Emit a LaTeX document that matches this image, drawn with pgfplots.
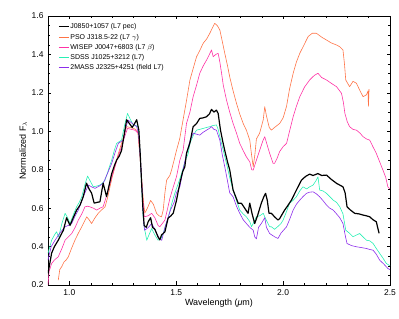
\documentclass[border=0pt]{standalone}
\usepackage{pgfplots}
\pgfplotsset{compat=1.18}
\usepackage{fontspec}
\setmainfont{Liberation Sans}
\definecolor{cblack}{RGB}{0,0,0}
\definecolor{corange}{RGB}{255,115,70}
\definecolor{cpink}{RGB}{255,50,165}
\definecolor{ccyan}{RGB}{40,240,180}
\definecolor{cpurple}{RGB}{140,45,235}
\begin{document}
\begin{tikzpicture}
\begin{axis}[
  scale only axis, width=342bp, height=269bp,
  xmin=0.9, xmax=2.5, ymin=0.2, ymax=1.6,
  xtick={1.0,1.5,2.0,2.5}, ytick={0.2,0.4,0.6,0.8,1.0,1.2,1.4,1.6},
  minor x tick num=4, minor y tick num=3,
  tick align=inside,
  major tick length=3.5bp, minor tick length=2bp,
  tick style={black, line width=0.5pt},
  axis line style={line width=0.6pt},
  /pgf/number format/assume math mode=true,
  /pgf/number format/.cd, fixed, fixed zerofill, precision=1, /pgfplots/.cd,
  ticklabel style={font=\fontsize{8.5}{9}\selectfont},
  xticklabel style={yshift=-1bp},
  yticklabel style={xshift=-1bp},
  xlabel={Wavelength (\textit{μ}m)},
  ylabel={Normalized F$_\lambda$},
  label style={font=\fontsize{9}{10}\selectfont},
  xlabel style={yshift=3bp},
  ylabel style={yshift=-2bp},
  legend cell align=left,
  legend style={at={(rel axis cs:0.0292,0.9796)}, anchor=north west, draw=none, fill=none,
    font=\fontsize{7}{8}\selectfont, row sep=0pt, inner sep=0pt,
    nodes={inner sep=1bp, text height=6.2bp, text depth=2bp}},
  legend image code/.code={\draw[#1] (0bp,0bp) -- (10bp,0bp);},
  every axis plot/.append style={line join=round}
]
\addlegendimage{cblack, line width=1.2pt}
\addlegendentry{J0850+1057 (L7 pec)}
\addlegendimage{corange, line width=0.6pt}
\addlegendentry{PSO J318.5-22 (L7 $\gamma$)}
\addlegendimage{cpink, line width=0.6pt}
\addlegendentry{WISEP J0047+6803 (L7 $\beta$)}
\addlegendimage{ccyan, line width=0.6pt}
\addlegendentry{SDSS J1025+3212 (L7)}
\addlegendimage{cpurple, line width=0.6pt}
\addlegendentry{2MASS J2325+4251 (field L7)}

% PSO J318.5-22
\addplot[corange, line width=0.6pt, forget plot] coordinates {
(0.948,0.225)(0.955,0.28)(0.964,0.295)(0.975,0.32)(0.985,0.33)(0.995,0.347)(1.010,0.39)(1.026,0.433)(1.042,0.47)(1.058,0.503)(1.070,0.53)(1.081,0.555)(1.092,0.54)(1.104,0.52)(1.120,0.55)(1.135,0.573)(1.150,0.59)(1.167,0.607)(1.180,0.66)(1.190,0.711)(1.200,0.76)(1.213,0.815)(1.228,0.88)(1.244,0.937)(1.256,0.98)(1.268,1.024)(1.284,1.02)(1.299,1.015)(1.310,1.01)(1.320,0.998)(1.330,0.87)(1.340,0.73)(1.347,0.63)(1.353,0.574)(1.365,0.60)(1.380,0.64)(1.393,0.62)(1.408,0.573)(1.420,0.56)(1.431,0.555)(1.439,0.59)(1.447,0.68)(1.455,0.746)(1.470,0.77)(1.478,0.798)(1.490,0.85)(1.501,0.90)(1.516,0.96)(1.532,1.06)(1.548,1.16)(1.564,1.267)(1.580,1.33)(1.595,1.388)(1.610,1.42)(1.626,1.458)(1.642,1.48)(1.657,1.51)(1.670,1.54)(1.680,1.562)(1.692,1.55)(1.704,1.527)(1.715,1.47)(1.727,1.406)(1.740,1.34)(1.750,1.284)(1.766,1.21)(1.782,1.145)(1.797,1.09)(1.813,1.041)(1.828,1.006)(1.844,0.954)(1.852,0.88)(1.860,0.815)(1.868,0.88)(1.875,0.96)(1.890,0.99)(1.907,1.06)(1.914,1.128)(1.922,1.08)(1.935,1.02)(1.945,1.006)(1.960,1.02)(1.984,1.041)(2.000,1.07)(2.016,1.13)(2.030,1.22)(2.047,1.302)(2.062,1.36)(2.078,1.406)(2.098,1.45)(2.117,1.493)(2.136,1.51)(2.156,1.51)(2.180,1.49)(2.203,1.475)(2.225,1.46)(2.250,1.449)(2.265,1.44)(2.280,1.423)(2.287,1.35)(2.293,1.267)(2.311,1.232)(2.327,1.26)(2.343,1.25)(2.360,1.21)(2.374,1.18)(2.390,1.19)(2.397,1.21)(2.399,1.13)(2.402,1.22)
};
% WISEP J0047+6803
\addplot[cpink, line width=0.6pt, forget plot] coordinates {
(0.900,0.20)(0.905,0.27)(0.917,0.312)(0.930,0.33)(0.948,0.347)(0.965,0.39)(0.980,0.433)(0.995,0.45)(1.011,0.468)(1.027,0.50)(1.042,0.538)(1.058,0.57)(1.073,0.607)(1.085,0.61)(1.096,0.607)(1.112,0.60)(1.128,0.59)(1.143,0.60)(1.158,0.607)(1.170,0.65)(1.182,0.694)(1.198,0.76)(1.213,0.815)(1.228,0.87)(1.244,0.92)(1.258,0.97)(1.272,1.015)(1.290,1.01)(1.306,1.006)(1.322,0.99)(1.332,0.85)(1.340,0.70)(1.350,0.555)(1.368,0.56)(1.385,0.573)(1.400,0.55)(1.415,0.51)(1.423,0.503)(1.435,0.52)(1.447,0.538)(1.460,0.60)(1.470,0.65)(1.486,0.71)(1.501,0.763)(1.517,0.85)(1.532,0.90)(1.548,1.041)(1.564,1.10)(1.579,1.18)(1.595,1.24)(1.610,1.302)(1.626,1.34)(1.642,1.371)(1.655,1.40)(1.665,1.423)(1.673,1.388)(1.685,1.40)(1.696,1.406)(1.704,1.36)(1.712,1.302)(1.720,1.24)(1.735,1.163)(1.750,1.10)(1.766,1.041)(1.782,0.99)(1.797,0.937)(1.813,0.90)(1.828,0.867)(1.844,0.841)(1.853,0.80)(1.860,0.798)(1.875,0.85)(1.890,0.90)(1.905,0.95)(1.914,0.972)(1.925,0.93)(1.937,0.885)(1.953,0.833)(1.960,0.833)(1.972,0.86)(1.984,0.895)(2.000,0.92)(2.016,0.937)(2.030,1.00)(2.047,1.076)(2.062,1.13)(2.078,1.18)(2.100,1.23)(2.124,1.267)(2.145,1.29)(2.163,1.302)(2.180,1.28)(2.203,1.267)(2.225,1.25)(2.250,1.232)(2.273,1.198)(2.282,1.15)(2.289,1.093)(2.300,1.05)(2.311,1.024)(2.327,1.01)(2.343,1.006)(2.360,0.99)(2.374,0.972)(2.390,0.96)(2.405,0.954)(2.420,0.92)(2.436,0.885)(2.452,0.84)(2.467,0.798)(2.480,0.76)(2.490,0.711)(2.500,0.70)
};
% SDSS J1025+3212
\addplot[ccyan, line width=0.6pt, forget plot] coordinates {
(0.900,0.365)(0.917,0.433)(0.930,0.46)(0.940,0.477)(0.950,0.45)(0.965,0.52)(0.980,0.573)(0.992,0.55)(1.003,0.52)(1.020,0.57)(1.034,0.607)(1.046,0.63)(1.058,0.659)(1.072,0.72)(1.085,0.767)(1.098,0.74)(1.112,0.711)(1.128,0.715)(1.143,0.72)(1.155,0.73)(1.167,0.746)(1.183,0.80)(1.198,0.85)(1.210,0.90)(1.221,0.937)(1.232,0.945)(1.244,0.954)(1.258,1.03)(1.272,1.093)(1.286,1.06)(1.299,1.033)(1.310,1.03)(1.322,1.024)(1.330,0.90)(1.338,0.72)(1.345,0.55)(1.350,0.503)(1.362,0.433)(1.372,0.46)(1.385,0.494)(1.400,0.46)(1.415,0.433)(1.428,0.44)(1.439,0.468)(1.450,0.51)(1.462,0.548)(1.478,0.62)(1.493,0.677)(1.510,0.73)(1.525,0.78)(1.540,0.84)(1.556,0.885)(1.564,0.937)(1.580,0.98)(1.595,1.006)(1.610,1.01)(1.626,1.015)(1.642,1.02)(1.657,1.024)(1.672,1.03)(1.688,1.033)(1.696,1.01)(1.704,0.972)(1.720,0.90)(1.735,0.833)(1.750,0.76)(1.766,0.694)(1.782,0.64)(1.797,0.59)(1.813,0.57)(1.828,0.555)(1.844,0.53)(1.852,0.503)(1.860,0.52)(1.875,0.555)(1.890,0.56)(1.907,0.573)(1.920,0.54)(1.937,0.503)(1.945,0.503)(1.960,0.49)(1.976,0.505)(1.990,0.52)(2.000,0.538)(2.015,0.58)(2.030,0.625)(2.046,0.64)(2.062,0.659)(2.078,0.69)(2.093,0.711)(2.110,0.70)(2.124,0.711)(2.140,0.72)(2.155,0.745)(2.163,0.763)(2.171,0.694)(2.186,0.69)(2.203,0.677)(2.218,0.66)(2.234,0.642)(2.250,0.63)(2.265,0.607)(2.280,0.57)(2.293,0.485)(2.310,0.47)(2.327,0.451)(2.343,0.46)(2.358,0.468)(2.374,0.45)(2.390,0.433)(2.405,0.43)(2.421,0.416)(2.436,0.39)(2.452,0.364)(2.467,0.34)(2.483,0.312)(2.500,0.30)
};
% 2MASS J2325+4251
\addplot[cpurple, line width=0.6pt, forget plot] coordinates {
(0.900,0.33)(0.915,0.40)(0.933,0.433)(0.955,0.47)(0.980,0.503)(0.995,0.51)(1.011,0.52)(1.027,0.56)(1.042,0.59)(1.065,0.66)(1.089,0.72)(1.105,0.71)(1.120,0.703)(1.140,0.715)(1.158,0.729)(1.178,0.78)(1.198,0.833)(1.214,0.89)(1.229,0.937)(1.252,0.954)(1.264,1.02)(1.275,1.058)(1.295,1.04)(1.315,1.024)(1.325,0.98)(1.333,0.85)(1.340,0.70)(1.347,0.53)(1.352,0.485)(1.370,0.50)(1.385,0.52)(1.400,0.49)(1.408,0.468)(1.422,0.44)(1.432,0.433)(1.447,0.50)(1.458,0.538)(1.473,0.59)(1.490,0.63)(1.501,0.68)(1.517,0.711)(1.532,0.80)(1.548,0.885)(1.564,0.95)(1.579,0.99)(1.595,0.985)(1.610,0.98)(1.626,0.995)(1.642,1.006)(1.655,1.015)(1.665,1.024)(1.676,1.01)(1.688,1.006)(1.704,0.954)(1.715,0.88)(1.727,0.815)(1.740,0.74)(1.750,0.68)(1.766,0.659)(1.782,0.61)(1.797,0.573)(1.813,0.54)(1.828,0.52)(1.844,0.50)(1.860,0.485)(1.867,0.451)(1.875,0.44)(1.885,0.50)(1.898,0.52)(1.914,0.55)(1.922,0.50)(1.937,0.468)(1.960,0.451)(1.976,0.442)(1.990,0.47)(2.016,0.503)(2.030,0.54)(2.047,0.59)(2.062,0.62)(2.078,0.642)(2.093,0.66)(2.109,0.677)(2.124,0.683)(2.140,0.685)(2.155,0.675)(2.171,0.659)(2.186,0.64)(2.203,0.616)(2.218,0.60)(2.234,0.59)(2.250,0.57)(2.265,0.55)(2.280,0.52)(2.292,0.45)(2.299,0.416)(2.320,0.405)(2.343,0.399)(2.365,0.395)(2.390,0.39)(2.405,0.385)(2.421,0.381)(2.436,0.36)(2.452,0.329)(2.470,0.31)(2.490,0.286)(2.500,0.28)
};
% J0850+1057
\addplot[cblack, line width=1.2pt, forget plot] coordinates {
(0.900,0.26)(0.917,0.366)(0.930,0.40)(0.948,0.433)(0.960,0.46)(0.972,0.485)(0.987,0.55)(1.003,0.51)(1.018,0.55)(1.034,0.59)(1.050,0.616)(1.065,0.66)(1.080,0.73)(1.092,0.70)(1.104,0.678)(1.116,0.626)(1.130,0.63)(1.143,0.633)(1.158,0.73)(1.174,0.66)(1.186,0.72)(1.198,0.78)(1.210,0.82)(1.221,0.85)(1.233,0.87)(1.244,0.90)(1.256,0.98)(1.268,1.06)(1.281,1.04)(1.294,1.02)(1.305,1.04)(1.315,1.06)(1.325,1.006)(1.332,0.87)(1.338,0.73)(1.344,0.60)(1.350,0.51)(1.360,0.50)(1.369,0.53)(1.380,0.55)(1.389,0.50)(1.400,0.49)(1.415,0.45)(1.423,0.435)(1.431,0.46)(1.447,0.477)(1.462,0.548)(1.475,0.56)(1.486,0.574)(1.501,0.64)(1.517,0.73)(1.530,0.79)(1.540,0.815)(1.548,0.885)(1.564,0.94)(1.579,1.024)(1.595,1.04)(1.610,1.067)(1.626,1.07)(1.642,1.076)(1.655,1.09)(1.665,1.114)(1.676,1.10)(1.688,1.11)(1.696,1.093)(1.707,1.006)(1.717,0.95)(1.727,0.90)(1.740,0.84)(1.750,0.80)(1.766,0.694)(1.778,0.66)(1.790,0.625)(1.805,0.625)(1.820,0.60)(1.836,0.573)(1.844,0.626)(1.855,0.57)(1.867,0.52)(1.880,0.56)(1.898,0.626)(1.910,0.66)(1.918,0.677)(1.926,0.64)(1.934,0.573)(1.945,0.573)(1.960,0.555)(1.976,0.538)(1.984,0.546)(2.007,0.590)(2.020,0.61)(2.039,0.642)(2.062,0.694)(2.086,0.746)(2.105,0.765)(2.124,0.777)(2.140,0.77)(2.163,0.78)(2.180,0.77)(2.203,0.772)(2.225,0.75)(2.250,0.729)(2.265,0.72)(2.280,0.711)(2.290,0.68)(2.299,0.607)(2.315,0.59)(2.335,0.573)(2.355,0.57)(2.374,0.564)(2.390,0.56)(2.405,0.555)(2.420,0.54)(2.436,0.529)(2.442,0.50)(2.449,0.469)
};
\end{axis}
\pgfresetboundingbox
\path[use as bounding box] (-48bp,-34bp) rectangle (351bp,285bp);
\end{tikzpicture}
\end{document}
